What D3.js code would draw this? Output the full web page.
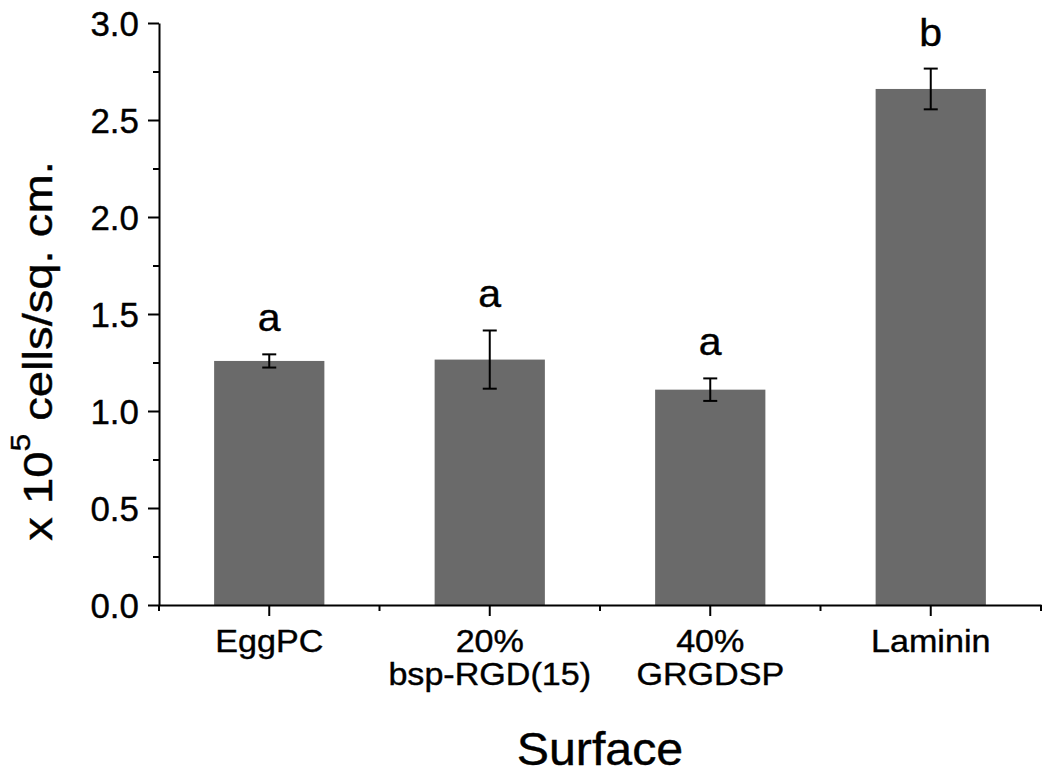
<!DOCTYPE html>
<html>
<head>
<meta charset="utf-8">
<script src="https://cdn.jsdelivr.net/npm/d3@7"></script>
<style>
  html, body { margin: 0; padding: 0; background: #fff; }
  svg text { font-family: "Liberation Sans", Arial, sans-serif; fill: #000; stroke: #000; stroke-width: 0.4px; }
</style>
</head>
<body>
<svg id="chart" width="1050" height="783"></svg>
<script>
// ---- data ----
const categories = ["EggPC", "20%\nbsp-RGD(15)", "40%\nGRGDSP", "Laminin"];
const values = [1.258, 1.265, 1.110, 2.660];
const errors = [0.034, 0.150, 0.058, 0.105];
const letters = ["a", "a", "a", "b"];
const yTicks = [0.0, 0.5, 1.0, 1.5, 2.0, 2.5, 3.0];
const yMinorTicks = [0.25, 0.75, 1.25, 1.75, 2.25, 2.75];
const xTitle = "Surface";

// ---- layout ----
const svg = d3.select("#chart");
const L = 159, R = 1041, T = 23, B = 605;
const barColor = "#6a6a6a";

const x = d3.scaleBand().domain(categories).range([L, R]).paddingInner(0).paddingOuter(0);
const y = d3.scaleLinear().domain([0, 3]).range([B, T]);
const barW = x.bandwidth() * 0.5;

// bars
svg.append("g").selectAll("rect").data(categories).join("rect")
  .attr("x", (d) => x(d) + (x.bandwidth() - barW) / 2)
  .attr("width", barW)
  .attr("y", (d, i) => y(values[i]))
  .attr("height", (d, i) => y(0) - y(values[i]))
  .attr("fill", barColor);

// error bars
const eb = svg.append("g").attr("stroke", "#000").attr("stroke-width", 2).attr("fill", "none");
categories.forEach((c, i) => {
  const cx = x(c) + x.bandwidth() / 2;
  const y1 = y(values[i] + errors[i]), y0 = y(values[i] - errors[i]);
  eb.append("line").attr("x1", cx).attr("x2", cx).attr("y1", y1).attr("y2", y0);
  eb.append("line").attr("x1", cx - 7).attr("x2", cx + 7).attr("y1", y1).attr("y2", y1);
  eb.append("line").attr("x1", cx - 7).attr("x2", cx + 7).attr("y1", y0).attr("y2", y0);
});

// significance letters
svg.append("g").selectAll("text").data(categories).join("text")
  .attr("transform", (d, i) => `translate(${x(d) + x.bandwidth() / 2},${y(values[i] + errors[i]) - 23}) scale(1.05,1)`)
  .attr("text-anchor", "middle")
  .attr("font-size", 39)
  .text((d, i) => letters[i]);

// y axis
const yAxis = svg.append("g").attr("transform", `translate(${L},0)`)
  .call(d3.axisLeft(y).tickValues(yTicks).tickFormat(d3.format(".1f")).tickSize(11).tickSizeOuter(0).tickPadding(8));
yAxis.select(".domain").attr("stroke-width", 2);
yAxis.selectAll(".tick line").attr("stroke-width", 2);
yAxis.selectAll(".tick text")
  .attr("font-size", 36).attr("font-family", "Liberation Sans, Arial, sans-serif")
  .attr("x", 0).attr("dy", "0.36em")
  .attr("transform", "translate(-20,0) scale(0.97,1)");
svg.append("g").attr("transform", `translate(${L},0)`)
  .call(d3.axisLeft(y).tickValues(yMinorTicks).tickSize(6).tickFormat(""))
  .call((g) => g.select(".domain").remove())
  .selectAll(".tick line").attr("stroke-width", 2);

// x axis
const xAxis = svg.append("g").attr("transform", `translate(0,${B})`)
  .call(d3.axisBottom(x).tickSize(11).tickSizeOuter(0).tickFormat(""));
xAxis.select(".domain").attr("stroke-width", 2);
xAxis.selectAll(".tick line").attr("stroke-width", 2);
// minor ticks at band boundaries
const bounds = categories.map((c) => x(c)).concat([R]);
svg.append("g").attr("stroke", "#000").attr("stroke-width", 2)
  .selectAll("line").data(bounds).join("line")
  .attr("x1", (d) => d).attr("x2", (d) => d).attr("y1", B).attr("y2", B + 6);

// x tick labels (multi-line)
xAxis.selectAll(".tick").each(function (d) {
  const lines = d.split("\n");
  const t = d3.select(this).append("text")
    .attr("text-anchor", "middle")
    .attr("font-size", 31)
    .attr("font-family", "Liberation Sans, Arial, sans-serif")
    .attr("fill", "#000")
    .attr("transform", "translate(0,47) scale(1.1,1)");
  lines.forEach((ln, k) => {
    t.append("tspan").attr("x", 0).attr("y", k * 33).text(ln);
  });
});

// x title
svg.append("text")
  .attr("transform", `translate(${(L + R) / 2},765) scale(1.05,1)`)
  .attr("text-anchor", "middle")
  .attr("font-size", 46)
  .text(xTitle);

// y title
const yt = svg.append("text")
  .attr("transform", `translate(52,351) rotate(-90) scale(1.18,1)`)
  .attr("text-anchor", "middle")
  .attr("font-size", 40);
yt.append("tspan").text("x 10");
yt.append("tspan").attr("font-size", 27).attr("dy", -22).text("5");
yt.append("tspan").attr("dy", 22).text(" cells/sq. cm.");
</script>
</body>
</html>
